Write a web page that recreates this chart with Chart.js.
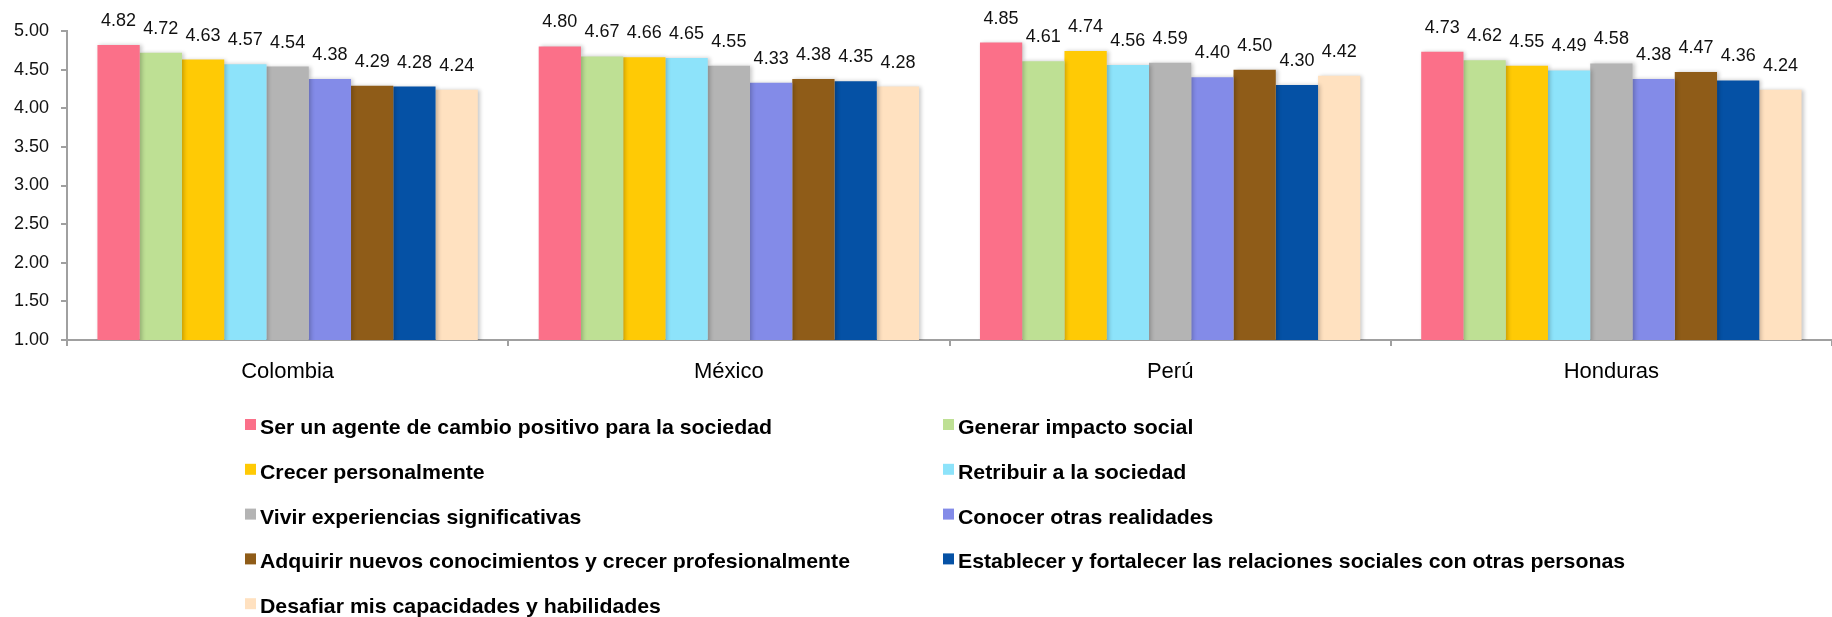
<!DOCTYPE html>
<html><head><meta charset="utf-8">
<script src="https://cdn.jsdelivr.net/npm/chart.js@4/dist/chart.umd.min.js"></script>
<style>html,body{margin:0;padding:0;background:#fff}#wrap{width:1832px;height:617px;position:relative}</style>
</head><body><div id="wrap"><canvas id="c" width="1832" height="617"></canvas></div>
<script>
const countries = ['Colombia', 'México', 'Perú', 'Honduras'];
const motivations = [
  'Ser un agente de cambio positivo para la sociedad',
  'Generar impacto social',
  'Crecer personalmente',
  'Retribuir a la sociedad',
  'Vivir experiencias significativas',
  'Conocer otras realidades',
  'Adquirir nuevos conocimientos y crecer profesionalmente',
  'Establecer y fortalecer las relaciones sociales con otras personas',
  'Desafiar mis capacidades y habilidades'
];
const serAgente      = [4.82, 4.80, 4.85, 4.73];
const generarImpacto = [4.72, 4.67, 4.61, 4.62];
const crecerPersonal = [4.63, 4.66, 4.74, 4.55];
const retribuir      = [4.57, 4.65, 4.56, 4.49];
const vivirExper     = [4.54, 4.55, 4.59, 4.58];
const conocerReal    = [4.38, 4.33, 4.40, 4.38];
const adquirirConoc  = [4.29, 4.38, 4.50, 4.47];
const establecerRel  = [4.28, 4.35, 4.30, 4.36];
const desafiar       = [4.24, 4.28, 4.42, 4.24];
const seriesValues = [serAgente, generarImpacto, crecerPersonal, retribuir, vivirExper, conocerReal, adquirirConoc, establecerRel, desafiar];
const colors = ['#FB7089', '#BEE094', '#FFCA05', '#8DE3FA', '#B4B4B4', '#838BE8', '#8F5C18', '#0551A5', '#FFE1C0'];
const yTicks = [1.00, 1.50, 2.00, 2.50, 3.00, 3.50, 4.00, 4.50, 5.00];

const FONT = '"Liberation Sans", Arial, sans-serif';

const barShadow = {
  id: 'barShadow',
  beforeDatasetsDraw(chart) {
    const ctx = chart.ctx;
    ctx.save();
    ctx.shadowColor = 'rgba(0,0,0,0.22)';
    ctx.shadowBlur = 4;
    ctx.shadowOffsetX = 2;
    ctx.shadowOffsetY = 0;
  },
  afterDatasetsDraw(chart) {
    chart.ctx.restore();
  }
};

const valueLabels = {
  id: 'valueLabels',
  afterDatasetsDraw(chart) {
    const ctx = chart.ctx;
    ctx.save();
    ctx.font = '18px ' + FONT;
    ctx.fillStyle = '#111';
    ctx.textAlign = 'center';
    ctx.textBaseline = 'middle';
    chart.data.datasets.forEach((ds, i) => {
      const meta = chart.getDatasetMeta(i);
      meta.data.forEach((bar, j) => {
        ctx.fillText(ds.data[j].toFixed(2), bar.x, bar.y - 24);
      });
    });
    ctx.restore();
  }
};

const customLegend = {
  id: 'customLegend',
  afterDraw(chart) {
    const ctx = chart.ctx;
    ctx.save();
    ctx.font = 'bold 21px ' + FONT;
    const sx = 512 / ctx.measureText(chart.data.datasets[0].label).width;
    chart.data.datasets.forEach((ds, i) => {
      const col = i % 2, row = Math.floor(i / 2);
      const x = col === 0 ? 245 : 943;
      const top = 419 + row * 44.8;
      ctx.fillStyle = ds.backgroundColor;
      ctx.fillRect(x, top, 11, 11);
      ctx.fillStyle = '#000';
      ctx.textAlign = 'left';
      ctx.textBaseline = 'alphabetic';
      ctx.save();
      ctx.translate(x + 15, top + 15);
      ctx.scale(sx, 1);
      ctx.fillText(ds.label, 0, 0);
      ctx.restore();
    });
    ctx.restore();
  }
};

new Chart(document.getElementById('c'), {
  type: 'bar',
  data: {
    labels: countries,
    datasets: motivations.map((m, i) => ({
      label: m,
      data: seriesValues[i],
      backgroundColor: colors[i],
      borderWidth: 0,
      categoryPercentage: 0.862,
      barPercentage: 1.0
    }))
  },
  options: {
    responsive: false,
    animation: false,
    layout: { padding: { top: 31, right: 0, left: 0, bottom: 0 } },
    plugins: { legend: { display: false }, tooltip: { enabled: false } },
    scales: {
      x: {
        grid: { display: true, drawOnChartArea: false, offset: true, color: '#A0A0A0', tickLength: 6, lineWidth: 2 },
        border: { color: '#A0A0A0', width: 2 },
        ticks: { color: '#000', font: { size: 22, family: FONT }, padding: 13 },
        afterFit(scale) { scale.height = 277; }
      },
      y: {
        min: 1, max: 5,
        afterBuildTicks(scale) { scale.ticks = yTicks.map(v => ({ value: v })); },
        grid: { display: true, drawOnChartArea: false, color: '#A0A0A0', tickLength: 6, lineWidth: 2 },
        border: { color: '#A0A0A0', width: 2 },
        ticks: { color: '#111', font: { size: 18, family: FONT }, padding: 12,
          callback: v => Number(v).toFixed(2) },
        afterFit(scale) { scale.width = 67; }
      }
    }
  },
  plugins: [barShadow, valueLabels, customLegend]
});
</script></body></html>
